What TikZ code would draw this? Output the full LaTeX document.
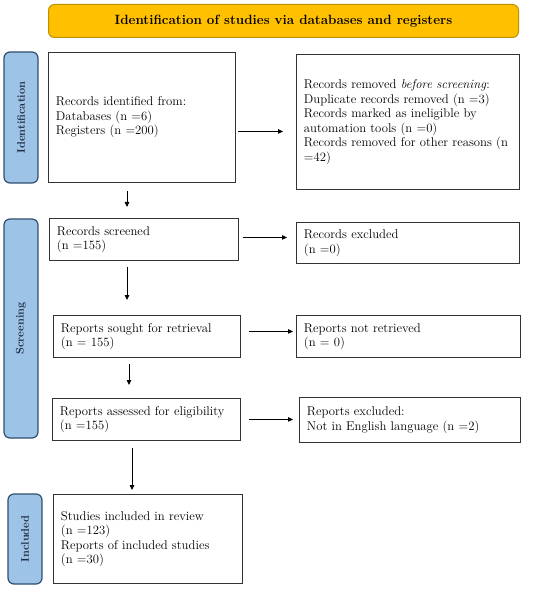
\documentclass[tikz,border=0pt]{standalone}
\usetikzlibrary{arrows.meta,calc}
\definecolor{hdrfill}{HTML}{FFC000}
\definecolor{hdrdraw}{HTML}{BF9000}
\definecolor{sidefill}{HTML}{9DC3E6}
\definecolor{sidedraw}{HTML}{2F4F6F}
\definecolor{sidetext}{HTML}{1F2A40}
\begin{document}
\begin{tikzpicture}[x=1pt,y=-1pt,
  box/.style={draw=black!80, line width=0.9pt, anchor=north west, align=left,
    inner xsep=7.5pt, inner ysep=0pt, font=\fontsize{12.7}{14.5}\selectfont},
  hdr/.style={draw=hdrdraw, fill=hdrfill, line width=1pt, rounded corners=6pt,
    anchor=north west, inner sep=0pt, font=\fontsize{13.4}{15}\selectfont\bfseries},
  side/.style={draw=sidedraw, fill=sidefill, text=sidetext, line width=1.2pt, rounded corners=6pt,
    rotate=90, inner sep=0pt, minimum height=34pt, font=\fontsize{11}{13}\selectfont\bfseries},
  arr/.style={draw=black, line width=0.8pt, -{Triangle[length=5pt,width=4.5pt]}}]
\useasboundingbox (0,0) rectangle (550,593);

\node[hdr, minimum width=470pt, minimum height=33pt] (hdr) at (48,4)
  {Identification of studies via databases and registers};

\node[side, minimum width=131pt] (sid) at (21,117.5) {Identification};
\node[side, minimum width=219pt] (ssc) at (21,328.5) {Screening};
\node[side, minimum width=90pt] (sin) at (25,539) {Included};

\node[box, text width=172pt, minimum height=130pt] (b1) at (48,52)
  {Records identified from:\\Databases (n =6)\\Registers (n =200)};
\node[box, text width=208pt, minimum height=135pt] (r1) at (296,54)
  {Records removed \textit{before screening}:\\Duplicate records removed (n =3)\\Records marked as ineligible by\\automation tools (n =0)\\Records removed for other reasons (n\\=42)};

\node[box, text width=174pt, minimum height=42pt] (b2) at (49,218)
  {Records screened\\(n =155)};
\node[box, text width=208pt, minimum height=41pt] (r2) at (296,222)
  {Records excluded\\(n =0)};

\node[box, text width=172pt, minimum height=42pt] (b3) at (53,315)
  {Reports sought for retrieval\\(n = 155)};
\node[box, text width=209pt, minimum height=42pt] (r3) at (296,315)
  {Reports not retrieved\\(n = 0)};

\node[box, text width=173pt, minimum height=42pt] (b4) at (52,398)
  {Reports assessed for eligibility\\(n =155)};
\node[box, text width=206pt, minimum height=45pt] (r4) at (299,397)
  {Reports excluded:\\Not in English language (n =2)};

\node[box, text width=174pt, minimum height=89pt] (b5) at (53,494)
  {Studies included in review\\(n =123)\\Reports of included studies\\(n =30)};

% horizontal arrows
\draw[arr, shorten >=13pt] ([xshift=2pt,yshift=-14pt]b1.east) coordinate (a1) -- (a1 -| r1.west);
\draw[arr, shorten >=9pt] ([xshift=4pt,yshift=2pt]b2.east) coordinate (a2) -- (a2 -| r2.west);
\draw[arr, shorten >=3pt] ([xshift=8pt,yshift=5pt]b3.east) coordinate (a3) -- (a3 -| r3.west);
\draw[arr, shorten >=6pt] ([xshift=8pt]b4.east) coordinate (a4) -- (a4 -| r4.west);

% vertical arrows
\draw[arr, shorten >=11pt] ([xshift=79pt,yshift=-8pt]b1.south west) coordinate (d1) -- (d1 |- b2.north);
\draw[arr, shorten >=15pt] ([xshift=78pt,yshift=-6pt]b2.south west) coordinate (d2) -- (d2 |- b3.north);
\draw[arr, shorten >=13pt] ([xshift=76pt,yshift=-6pt]b3.south west) coordinate (d3) -- (d3 |- b4.north);
\draw[arr, shorten >=4pt] ([xshift=80pt,yshift=-7pt]b4.south west) coordinate (d4) -- (d4 |- b5.north);
\end{tikzpicture}
\end{document}
